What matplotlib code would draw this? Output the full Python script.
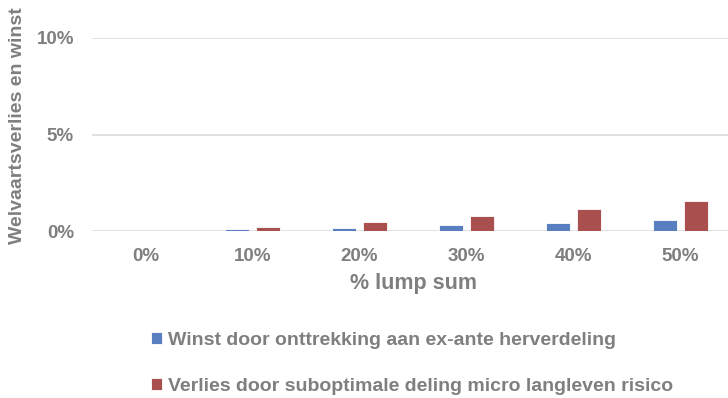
import matplotlib
matplotlib.use("Agg")
import matplotlib.pyplot as plt
import numpy as np

categories = ["0%", "10%", "20%", "30%", "40%", "50%"]
winst = [0.0, 0.09, 0.18, 0.30, 0.41, 0.57]
verlies = [0.0, 0.21, 0.47, 0.80, 1.12, 1.54]
y_ticks = [0, 5, 10]
y_tick_labels = ["0%", "5%", "10%"]
series_labels = [
    "Winst door onttrekking aan ex-ante herverdeling",
    "Verlies door suboptimale deling micro langleven risico",
]

plt.rcParams["font.family"] = ["Liberation Sans", "DejaVu Sans"]
text_color = "#7f7f7f"
blue = "#5a7fc0"
red = "#a94f4e"

W, H = 728, 398
fig = plt.figure(figsize=(W / 100, H / 100), dpi=100)
left_px, right_px = 92, 734
bottom_px, top_px = 231, 38
ax = fig.add_axes([left_px / W, 1 - bottom_px / H,
                   (right_px - left_px) / W, (bottom_px - top_px) / H])

x = np.arange(len(categories))
bw = 0.225
gap = 0.065
b1 = ax.bar(x - (bw + gap) / 2, winst, bw, color=blue, edgecolor="white",
            linewidth=0.6, zorder=3, label=series_labels[0])
b2 = ax.bar(x + (bw + gap) / 2, verlies, bw, color=red, edgecolor="white",
            linewidth=0.6, zorder=3, label=series_labels[1])

ax.set_xlim(-0.5, len(categories) - 0.5)
ax.set_ylim(0, 10)
ax.set_yticks(y_ticks)
ax.set_yticklabels(y_tick_labels)
ax.set_xticks(x)
ax.set_xticklabels(categories)
ax.yaxis.grid(True, color="#d9d9d9", linewidth=1.1, zorder=0)
ax.set_axisbelow(True)
for s in ax.spines.values():
    s.set_visible(False)
ax.tick_params(axis="both", length=0, colors=text_color, labelsize=13.5)
ax.tick_params(axis="y", pad=13)
ax.tick_params(axis="x", pad=12)
for lab in ax.get_xticklabels() + ax.get_yticklabels():
    lab.set_fontweight("bold")

ax.set_xlabel("% lump sum", fontsize=15.5, fontweight="bold", color=text_color,
              labelpad=6)
fig.text(18 / W, 1 - 126 / H, "Welvaartsverlies en winst", rotation=90,
         fontsize=14, fontweight="bold", color=text_color,
         ha="center", va="center")

leg = fig.legend(handles=[b1, b2], labels=series_labels,
                 loc="upper left", bbox_to_anchor=(151 / W, 1 - 332 / H),
                 frameon=False, ncol=1, handlelength=0.55, handleheight=0.55,
                 handletextpad=0.35, labelspacing=1.5, borderaxespad=0,
                 borderpad=0,
                 prop={"size": 14, "weight": "bold"})
for t in leg.get_texts():
    t.set_color(text_color)

fig.savefig("out.png", dpi=100)
